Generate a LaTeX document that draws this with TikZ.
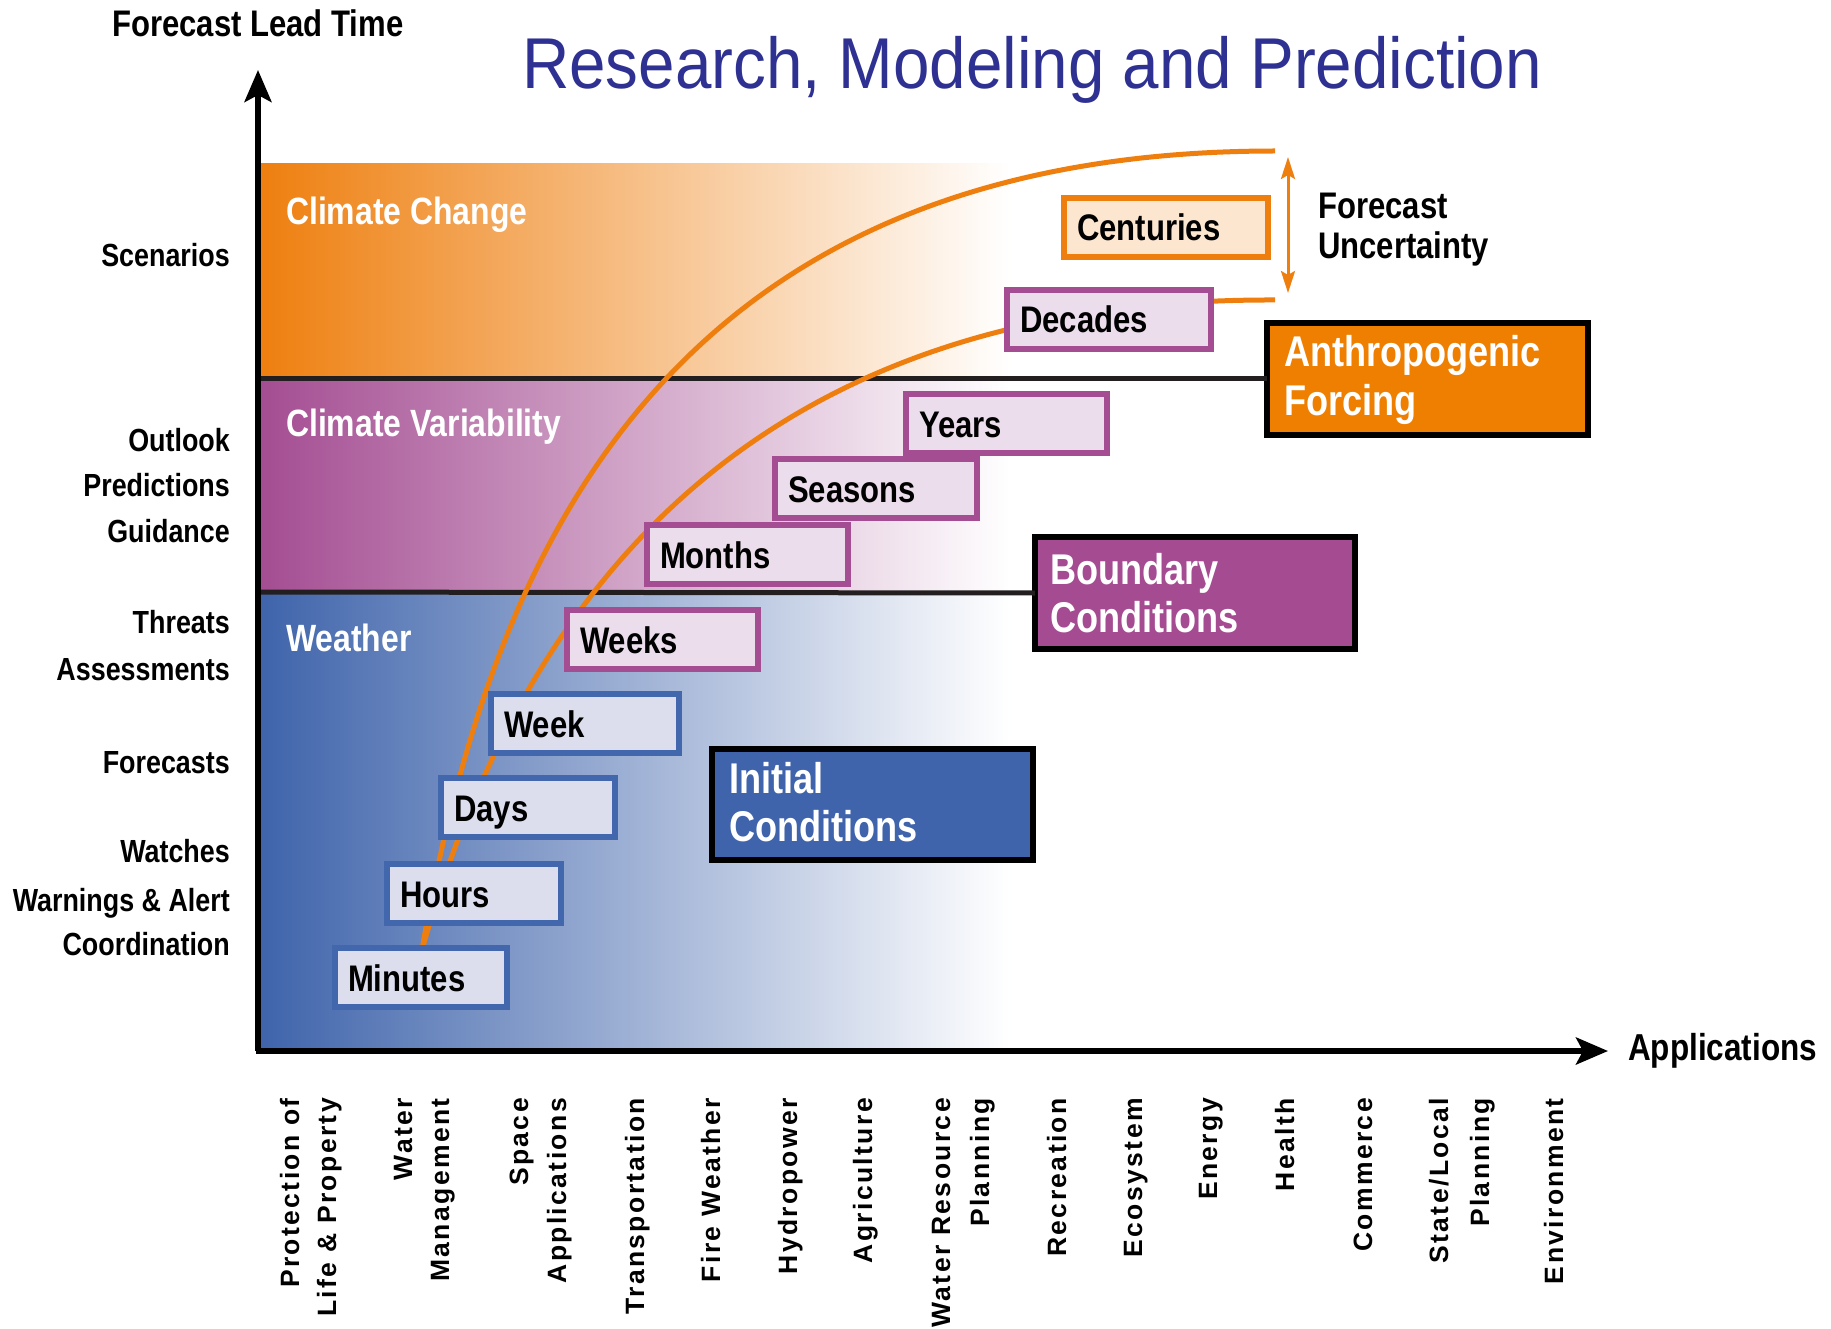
\documentclass[tikz,border=0pt]{standalone}
\usepackage{fontspec}
\setmainfont{Liberation Sans}
\newfontfamily\condb{Liberation Sans Bold}[FakeStretch=0.84]
\newfontfamily\titlef{Liberation Sans}[FakeStretch=0.91]
\newfontfamily\appf{Liberation Sans Bold}[LetterSpace=9]
\usetikzlibrary{arrows.meta}
\definecolor{cOrange}{HTML}{EE7F0F}
\definecolor{cOrangeFill}{HTML}{FDE6D0}
\definecolor{cPurple}{HTML}{A44D92}
\definecolor{cPurpleFill}{HTML}{EBDDEC}
\definecolor{cBlue}{HTML}{3F64AB}
\definecolor{cBlueBorder}{HTML}{4267AD}
\definecolor{cBlueFill}{HTML}{DCDEEE}
\definecolor{cTitle}{HTML}{2E3192}
\definecolor{cLine}{HTML}{231F20}
\definecolor{cAnthro}{HTML}{EE7F00}
\definecolor{cBound}{HTML}{A54B92}
\begin{document}
\begin{tikzpicture}[x=1pt,y=-1pt,
  axislbl/.style={font=\condb\fontsize{32}{36}\selectfont, anchor=base east, inner sep=0pt},
  toplbl/.style={font=\condb\fontsize{37}{40}\selectfont, anchor=base west, inner sep=0pt},
  bandlbl/.style={font=\condb\fontsize{38}{44}\selectfont, text=white, anchor=base west, inner sep=0pt},
  tbox/.style={draw, line width=6pt, outer sep=0pt, anchor=base west, inner xsep=13pt, inner ysep=0pt,
    text height=43pt, text depth=16pt, align=left, font=\condb\fontsize{37}{44}\selectfont},
  wbox/.style={tbox, draw=cBlueBorder, fill=cBlueFill},
  cbox/.style={tbox, draw=cPurple, fill=cPurpleFill},
  obox/.style={tbox, draw=cOrange, fill=cOrangeFill},
  bigbox/.style={draw=black, line width=6.5pt, outer sep=0pt, anchor=base west, inner ysep=0pt, align=left,
    text=white, font=\condb\fontsize{43}{48}\selectfont},
  applbl/.style={font=\appf\fontsize{26.5}{30}\selectfont, rotate=90, anchor=base east, inner sep=0pt},
  bandline/.style={draw=cLine, line width=5pt},
  axisline/.style={draw=black, line width=5.5pt, -{Stealth[length=32pt,width=27pt,inset=7pt]}},
  curve/.style={draw=cOrange, line width=5pt},
  uarrow/.style={draw=cOrange, line width=3pt, {Stealth[length=22pt,width=14pt,inset=4pt]}-{Stealth[length=22pt,width=14pt,inset=4pt]}}
]
\useasboundingbox (0,0) rectangle (1831,1329);
\fill[white] (0,0) rectangle (1831,1329);

% title
\node[font=\titlef\fontsize{72}{80}\selectfont, text=cTitle, anchor=base west, inner sep=0pt] (title) at (522,89) {Research, Modeling and Prediction};

% bands
\shade[left color=cOrange, right color=white] (260,164) rectangle (1010,379);
\shade[left color=cPurple, right color=white] (260,379) rectangle (1010,592);
\shade[left color=cBlue, right color=white] (260,592) rectangle (1010,1051);

% band labels
\node[bandlbl] (lcc) at (286,225) {Climate Change};
\node[bandlbl] (lcv) at (286,436) {Climate Variability};
\node[bandlbl] (lw) at (286,651) {Weather};

% big boxes
\node[bigbox, fill=cAnthro, inner xsep=17pt, text width=287pt, text height=44pt, text depth=68pt] (anthro) at (1267,367) {Anthropogenic\\Forcing};
\node[bigbox, fill=cBound, inner xsep=15pt, text width=290pt, text height=47pt, text depth=65pt] (bound) at (1035,584) {Boundary\\Conditions};
\node[bigbox, fill=cBlue, inner xsep=17pt, text width=287pt, text height=44pt, text depth=67pt] (init) at (712,793) {Initial\\Conditions};

% band separator lines
\coordinate (ya1) at (256,379);
\coordinate (ya2) at (256,592);
\draw[bandline] (ya1) -- (anthro.west);
\draw[bandline] (ya2) -- (bound.west);

% axes
\coordinate (origin) at (258,1051);
\coordinate (ytip) at (258,70);
\coordinate (xorigin) at (255.5,1051);
\coordinate (xtip) at (1608,1051);
\draw[axisline] (origin) -- (ytip);
\draw[axisline] (xorigin) -- (xtip);

% curves
\coordinate (cstart) at (422,950);
\coordinate (cendA) at (1275,151);
\coordinate (cendB) at (1275,300);
\draw[curve] (cstart) .. controls (490,548) and (670,151) .. (cendA);
\draw[curve] (cstart) .. controls (520,598) and (749,298) .. (cendB);

% uncertainty arrow
\coordinate (u1) at (1288,157);
\coordinate (u2) at (1288,293);
\draw[uarrow] (u1) -- (u2);
\node[toplbl] (fu1) at (1318,219) {Forecast};
\node[toplbl] (fu2) at (1318,259) {Uncertainty};

% time boxes
\node[wbox, text width=146pt] (minutes) at (335,991) {Minutes};
\node[wbox, text width=148pt] (hours) at (387,907) {Hours};
\node[wbox, text width=148pt] (days) at (441,821) {Days};
\node[wbox, text width=162pt] (week) at (491,737) {Week};
\node[cbox, text width=165pt] (weeks) at (567,653) {Weeks};
\node[cbox, text width=175pt] (months) at (647,568) {Months};
\node[cbox, text width=176pt] (seasons) at (775,502) {Seasons};
\node[cbox, text width=175pt] (years) at (906,437) {Years};
\node[cbox, text width=178pt] (decades) at (1007,333) {Decades};
\node[obox, text width=178pt] (centuries) at (1064,241) {Centuries};

% axis titles
\node[font=\condb\fontsize{37}{40}\selectfont, anchor=base west, inner sep=0pt] (ytitle) at (112,37) {Forecast Lead Time};
\node[font=\condb\fontsize{37.5}{40}\selectfont, anchor=base west, inner sep=0pt] (xtitle) at (1628,1060) {Applications};

% left labels
\node[axislbl] (s1) at (230,267) {Scenarios};
\node[axislbl] (s2) at (230,451) {Outlook};
\node[axislbl] (s3) at (230,496) {Predictions};
\node[axislbl] (s4) at (230,542) {Guidance};
\node[axislbl] (s5) at (230,633) {Threats};
\node[axislbl] (s6) at (230,680) {Assessments};
\node[axislbl] (s7) at (230,773) {Forecasts};
\node[axislbl] (s8) at (230,862) {Watches};
\node[axislbl] (s9) at (230,911) {Warnings \& Alert};
\node[axislbl] (s10) at (230,955) {Coordination};

% application labels
\node[applbl] (a1a) at (299,1098) {Protection of};
\node[applbl] (a1b) at (336,1098) {Life \& Property};
\node[applbl] (a2a) at (412,1098) {Water};
\node[applbl] (a2b) at (449,1098) {Management};
\node[applbl] (a3a) at (528,1098) {Space};
\node[applbl] (a3b) at (566,1098) {Applications};
\node[applbl] (a4) at (644,1098) {Transportation};
\node[applbl] (a5) at (720,1098) {Fire Weather};
\node[applbl] (a6) at (797,1098) {Hydropower};
\node[applbl] (a7) at (872,1098) {Agriculture};
\node[applbl] (a8a) at (950,1098) {Water Resource};
\node[applbl] (a8b) at (989,1098) {Planning};
\node[applbl] (a9) at (1066,1098) {Recreation};
\node[applbl] (a10) at (1142,1098) {Ecosystem};
\node[applbl] (a11) at (1217,1098) {Energy};
\node[applbl] (a12) at (1294,1098) {Health};
\node[applbl] (a13) at (1372,1098) {Commerce};
\node[applbl] (a14a) at (1448,1098) {State/Local};
\node[applbl] (a14b) at (1489,1098) {Planning};
\node[applbl] (a15) at (1563,1098) {Environment};
\end{tikzpicture}
\end{document}
